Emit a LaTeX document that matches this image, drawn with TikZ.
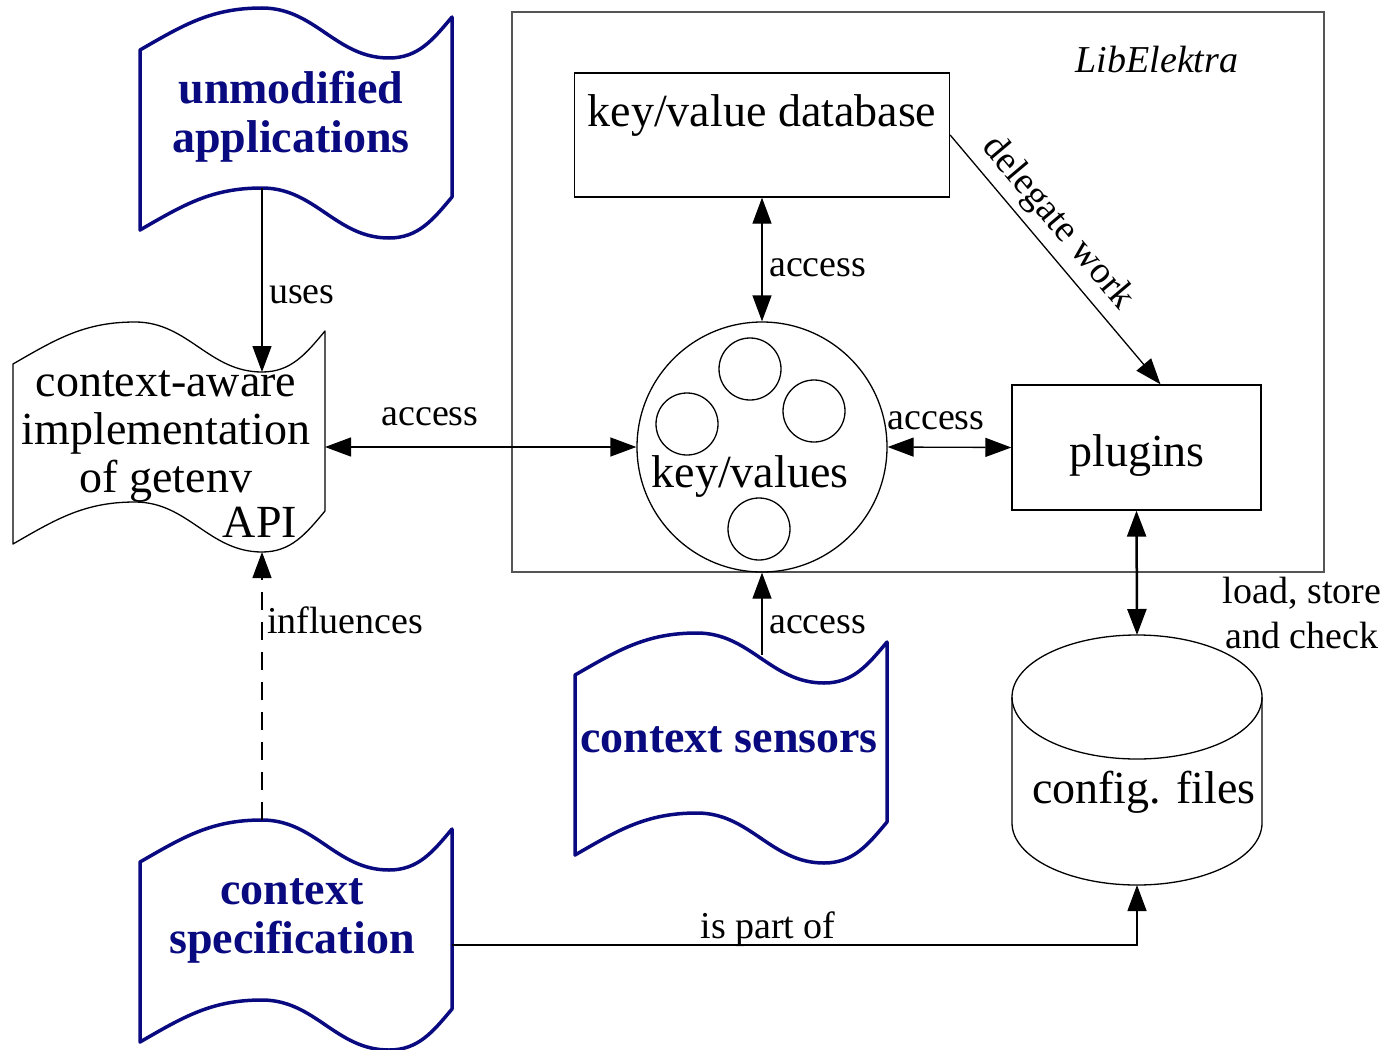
\documentclass[tikz,border=0pt]{standalone}
\usepackage{fontspec}
\setmainfont{Liberation Serif}
\usetikzlibrary{positioning,arrows.meta}
\definecolor{navy}{RGB}{10,10,128}
\definecolor{framegray}{RGB}{85,85,85}

\tikzset{
  pics/wave/.style={code={
    \draw[line join=round] (0,42) to[out=30,in=180] (122,0) to[out=0,in=180] (249,50)
      to[out=0,in=230] (312,9) -- (312,189) to[out=230,in=0] (249,230)
      to[out=180,in=0] (122,180) to[out=180,in=30] (0,222) -- cycle;
    \coordinate (-n1) at (122,0);
    \coordinate (-n2) at (249,50);
    \coordinate (-n3) at (187,22);
    \coordinate (-s1) at (122,180);
    \coordinate (-s2) at (249,230);
    \coordinate (-e) at (312,125);
  }}
}

\begin{document}
\begin{tikzpicture}[x=1pt, y=-1pt,
    txt/.style={font=\fontsize{46}{48}\selectfont, align=center, inner sep=0pt},
    btxt/.style={font=\fontsize{46}{49}\selectfont\bfseries, text=navy, align=center, inner sep=0pt},
    lbl/.style={font=\fontsize{38}{46}\selectfont, align=center, inner sep=0pt},
    box/.style={draw, line width=1.3pt, inner sep=0pt},
    arr/.style={line width=1.3pt, -{Triangle[length=26pt,width=19pt]}},
    darr/.style={line width=1.3pt, {Triangle[length=26pt,width=19pt]}-{Triangle[length=26pt,width=19pt]}}
  ]
  \useasboundingbox (0,0) rectangle (1388,1049);

  % LibElektra frame
  \draw[framegray, line width=1.3pt] (512,12) rectangle (1324,572);
  \node[lbl, font=\fontsize{38}{46}\selectfont\itshape, anchor=base] (lib) at (1157,73) {LibElektra};

  % Nodes
  \node[box, minimum width=375, minimum height=124] (db) at (762,135) {};
  \node[txt, anchor=base] (dbtxt) at (762,126) {key/value database};

  \node[box, circle, minimum size=250] (kv) at (762,447) {};
  \foreach \p in {(750,369), (687,424), (814,411), (759,529)}
    \node[box, circle, minimum size=62] at \p {};
  \node[txt, anchor=base] (kvtxt) at (750,487) {key/values};

  \node[box, minimum width=249, minimum height=125] (plug) at (1136.5,447.5) {};
  \node[txt, anchor=base] (plugtxt) at (1137,466) {plugins};

  % config files drum
  \draw[line width=1.3pt] (1137,697) ellipse [x radius=125pt, y radius=62pt];
  \draw[line width=1.3pt] (1012,697) -- (1012,823)
    .. controls (1012,857) and (1068,885) .. (1137,885)
    .. controls (1206,885) and (1262,857) .. (1262,823) -- (1262,697);
  \coordinate (cfg-top) at (1137,635);
  \coordinate (cfg-bot) at (1137,885);
  \node[txt, anchor=base] (cfgtxt) at (1144,803) {config. files};

  \pic[navy, line width=3.5pt] (apps) at (140,8) {wave};
  \node[btxt] (appstxt) at (291,117) {unmodified\\applications};

  \pic[line width=1.3pt] (impl) at (13,322) {wave};
  \node[txt] (impltxt) at (166,437) {context-aware\\implementation\\of getenv};
  \node[txt, anchor=base] (api) at (260,537) {API};

  \pic[navy, line width=3.5pt] (spec) at (140,820) {wave};
  \node[btxt] (spectxt) at (292,921) {context\\specification};

  \pic[navy, line width=3.5pt] (sens) at (575,633) {wave};
  \node[btxt, anchor=base] (senstxt) at (729,752) {context sensors};

  % Edges
  \draw[arr] (apps-s1) -- (impl-n2);
  \node[lbl, anchor=base west] at (269,303) {uses};

  \draw[darr] (impl-e) -- (impl-e -| kv.west);
  \node[lbl, anchor=base] at (430,425) {access};

  \draw[darr] (db.south) -- (kv.north);
  \node[lbl, anchor=base west] at (769,276) {access};

  \draw[darr] (kv.east) -- (plug.west);
  \node[lbl, anchor=base] at (936,429) {access};

  \draw[arr] (db.east) -- node[lbl, sloped, above=7pt, pos=0.42] {delegate work} ([xshift=24pt]plug.north);

  \draw[darr, line width=2.5pt] (plug.south) -- (cfg-top);
  \node[lbl, anchor=base] at (1302,603) {load, store};
  \node[lbl, anchor=base] at (1302,648) {and check};

  \draw[arr] (sens-n3) -- (kv.south);
  \node[lbl, anchor=base west] at (769,633) {access};

  \draw[arr, dash pattern=on 18pt off 12pt] (spec-n1) -- (impl-s2);
  \node[lbl, anchor=base west] at (267,633) {influences};

  \draw[arr] (spec-e) -| (cfg-bot);
  \node[lbl, anchor=base] at (768,938) {is part of};
\end{tikzpicture}
\end{document}
